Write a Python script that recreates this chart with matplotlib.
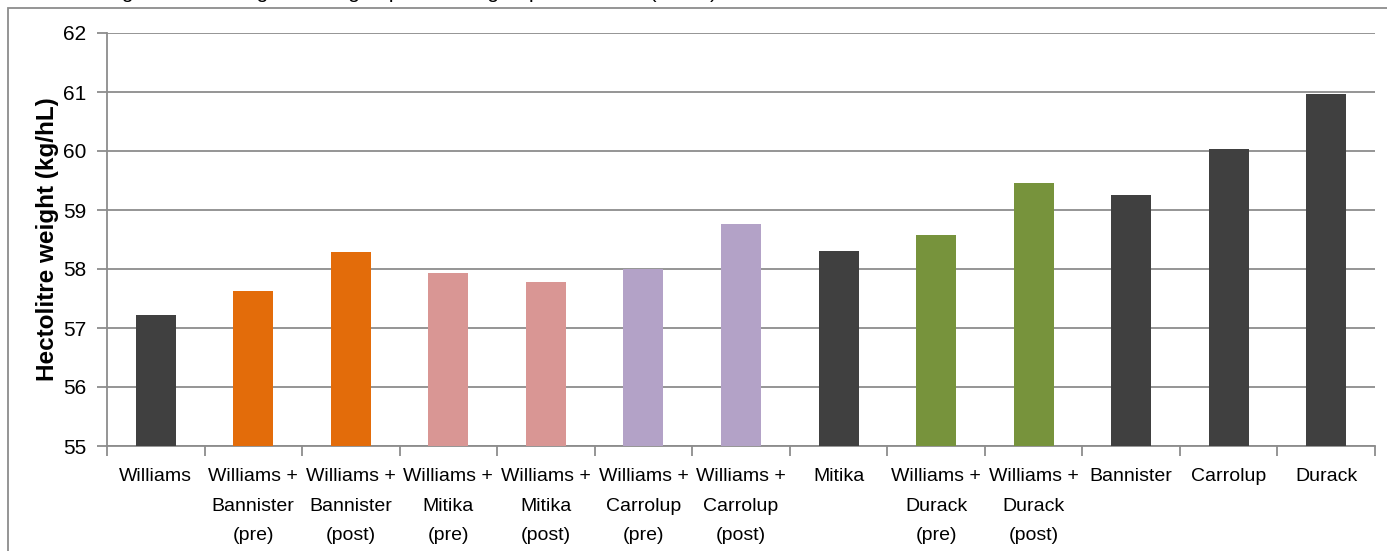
import matplotlib
matplotlib.use('Agg')
import matplotlib.pyplot as plt
from matplotlib.patches import Rectangle

categories = ['Williams', 'Williams +\nBannister\n(pre)', 'Williams +\nBannister\n(post)',
              'Williams +\nMitika\n(pre)', 'Williams +\nMitika\n(post)',
              'Williams +\nCarrolup\n(pre)', 'Williams +\nCarrolup\n(post)', 'Mitika',
              'Williams +\nDurack\n(pre)', 'Williams +\nDurack\n(post)',
              'Bannister', 'Carrolup', 'Durack']
values = [57.22, 57.62, 58.28, 57.93, 57.78, 58.0, 58.77, 58.3, 58.57, 59.46, 59.26, 60.04, 60.97]
colors = ['#404040', '#E36C0A', '#E36C0A', '#D99694', '#D99694', '#B3A2C7', '#B3A2C7',
          '#404040', '#77933C', '#77933C', '#404040', '#404040', '#404040']
yticks = [55, 56, 57, 58, 59, 60, 61, 62]

plt.rcParams['font.family'] = ['Liberation Sans', 'DejaVu Sans']

W, H = 1387, 551
fig = plt.figure(figsize=(W / 100, H / 100), dpi=100)
ax = fig.add_axes([107 / W, 1 - 446 / H, (1375 - 107) / W, (446 - 33) / H])

x = range(len(categories))
ax.bar(x, values, width=0.41, color=colors, zorder=3)
ax.set_ylim(55, 62)
ax.set_xlim(-0.5, len(categories) - 0.5)
ax.set_yticks(yticks)
ax.set_yticklabels([str(t) for t in yticks], fontsize=15)
ax.yaxis.grid(True, color='#8c8c8c', linewidth=1.3, zorder=0)

ax.set_xticks([i - 0.5 for i in range(len(categories) + 1)])
ax.set_xticklabels([])
ax.set_xticks(list(x), minor=True)
ax.set_xticklabels(categories, minor=True, fontsize=14, linespacing=1.95)
ax.tick_params(axis='x', which='minor', length=0, pad=16)
ax.tick_params(axis='x', which='major', length=7, color='#8c8c8c', width=1.3)
ax.tick_params(axis='y', length=7, color='#8c8c8c', width=1.3, pad=8)

for s in ['top', 'right']:
    ax.spines[s].set_visible(False)
for s in ['left', 'bottom']:
    ax.spines[s].set_color('#8c8c8c')
    ax.spines[s].set_linewidth(1.3)

ax.set_ylabel('Hectolitre weight (kg/hL)', fontsize=17.5, fontweight='bold', labelpad=3)

# outer chart border
fig.patches.append(Rectangle((8 / W, -0.1), 1.2, 1 - 8 / H + 0.1, transform=fig.transFigure,
                             fill=False, edgecolor='#8c8c8c', linewidth=1.3))

# title, cut off at the top of the image
fig.text(-0.005, 1 + 2 / H, 'lect of blending seed cleaning occurring at pre-seeding or post-harvest (Site 3)',
         fontsize=15, va='baseline', ha='left')

fig.savefig('out.png', dpi=100)
